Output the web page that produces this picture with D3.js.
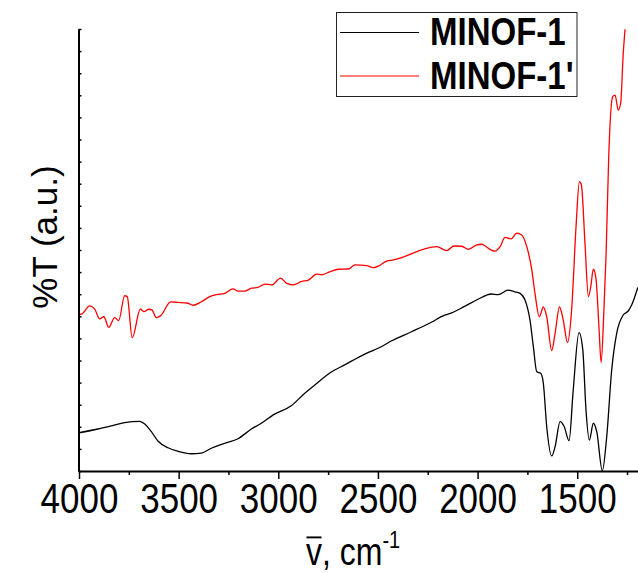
<!DOCTYPE html>
<html>
<head>
<meta charset="utf-8">
<script src="https://cdn.jsdelivr.net/npm/d3@7/dist/d3.min.js"></script>
<style>
  html, body { margin: 0; padding: 0; background: #fff; }
  svg { display: block; }
  text { font-family: "Liberation Sans", Arial, sans-serif; fill: #000; }
</style>
</head>
<body>
<svg id="chart" width="638" height="573"></svg>
<script>
// IR spectra, wavenumber (cm-1) against transmittance (arbitrary units)
const seriesNames = ["MINOF-1", "MINOF-1'"];
const seriesColors = ["#000000", "#ff0000"];

const minofWn = [4000, 3905, 3838, 3771, 3695, 3670, 3637, 3604, 3553, 3503, 3436, 3386, 3336, 3269,
  3202, 3135, 3085, 3027, 2935, 2867, 2817, 2734, 2667, 2566, 2483, 2433, 2332, 2232, 2165, 2140,
  2065, 1998, 1931, 1897, 1847, 1814, 1787, 1762, 1737, 1720, 1703, 1683, 1670, 1653, 1628, 1611,
  1586, 1565, 1541, 1520, 1491, 1472, 1456, 1439, 1419, 1402, 1374, 1352, 1327, 1302, 1269, 1244,
  1227, 1196];
const minofT = [1.73, 1.90, 2.04, 2.19, 2.25, 2.13, 1.78, 1.36, 1.05, 0.89, 0.78, 0.81, 1.03, 1.25,
  1.46, 1.90, 2.16, 2.53, 2.95, 3.52, 3.89, 4.48, 4.80, 5.29, 5.62, 5.88, 6.30, 6.73, 7.05, 7.12,
  7.45, 7.77, 8.01, 7.98, 8.18, 8.11, 8.04, 7.74, 6.83, 5.62, 4.49, 4.42, 3.97, 2.00, 0.68, 1.10,
  2.23, 2.00, 1.37, 3.67, 6.26, 5.48, 2.76, 1.40, 2.16, 1.78, 0.01, 1.55, 4.57, 6.23, 7.06, 7.24,
  7.51, 8.31];

const minofPrimeWn = [4000, 3988, 3946, 3921, 3896, 3875, 3851, 3821, 3801, 3771, 3758, 3733, 3692,
  3674, 3650, 3634, 3612, 3590, 3540, 3503, 3453, 3428, 3386, 3344, 3311, 3269, 3227, 3202, 3169,
  3135, 3102, 3067, 3033, 2988, 2958, 2925, 2882, 2849, 2807, 2782, 2740, 2699, 2649, 2615, 2556,
  2523, 2490, 2456, 2423, 2205, 2155, 2118, 2080, 2046, 2004, 1979, 1963, 1938, 1913, 1887, 1862,
  1832, 1804, 1779, 1753, 1728, 1712, 1690, 1670, 1653, 1628, 1611, 1589, 1570, 1549, 1528, 1506,
  1489, 1479, 1461, 1444, 1432, 1419, 1406, 1391, 1380, 1366, 1355, 1342, 1322, 1310, 1294, 1282,
  1269, 1260];
const minofPrimeT = [7.09, 7.10, 7.47, 7.32, 6.88, 6.98, 6.50, 6.94, 6.80, 7.93, 7.89, 6.03, 7.33,
  7.21, 7.32, 7.29, 6.94, 7.03, 7.65, 7.63, 7.59, 7.50, 7.66, 7.89, 7.98, 8.04, 8.24, 8.14, 8.14,
  8.27, 8.31, 8.46, 8.42, 8.73, 8.49, 8.42, 8.58, 8.64, 8.91, 8.88, 9.02, 9.13, 9.14, 9.33, 9.29,
  9.20, 9.31, 9.50, 9.55, 10.15, 9.97, 10.18, 10.17, 10.03, 10.23, 10.26, 10.19, 10.03, 9.95, 10.15, 10.57,
  10.50, 10.76, 10.68, 10.15, 9.10, 8.04, 6.98, 7.42, 6.98, 5.45, 6.23, 7.42, 6.83, 5.81, 7.29, 11.05,
  13.09, 12.94, 10.30, 7.89, 8.34, 9.13, 8.72, 6.53, 4.92, 7.29, 9.85, 14.20, 16.94, 17.01, 16.33, 16.64,
  18.90, 19.99];

const majorTicks = [4000, 3500, 3000, 2500, 2000, 1500];
const minorTicks = [3750, 3250, 2750, 2250, 1750, 1250];
const yTicks = d3.range(0, 21);

const svg = d3.select("#chart");
svg.append("rect").attr("width", 638).attr("height", 573).attr("fill", "#fff");

const x = d3.scaleLinear().domain([4000, 1195]).range([79, 638]);
const y = d3.scaleLinear().domain([0, 20]).range([471, 29]);

const plot = svg.append("g");
plot.append("clipPath").attr("id", "clip")
  .append("rect").attr("x", 79).attr("y", 0).attr("width", 559).attr("height", 472);

const line = d3.line()
  .x(d => x(d[0]))
  .y(d => y(d[1]))
  .curve(d3.curveMonotoneX);

const series = [
  d3.zip(minofWn, minofT),
  d3.zip(minofPrimeWn, minofPrimeT)
];

plot.selectAll("path.spec")
  .data(series)
  .join("path")
  .attr("class", "spec")
  .attr("clip-path", "url(#clip)")
  .attr("d", line)
  .attr("fill", "none")
  .attr("stroke", (d, i) => seriesColors[i])
  .attr("stroke-width", 1.3)
  .attr("stroke-linejoin", "round");

// Left axis: unlabeled ticks pointing into the plot
const yAxis = svg.append("g")
  .attr("transform", "translate(78.5,0)")
  .call(d3.axisLeft(y).tickValues(yTicks).tickSizeInner(-3).tickSizeOuter(0).tickFormat(""));
yAxis.select(".domain").attr("stroke", "#000").attr("stroke-width", 2);
yAxis.selectAll(".tick line").attr("stroke", "#000").attr("stroke-width", 1.5);

// Bottom axis: labelled major ticks, short minor ticks
const xMinor = svg.append("g")
  .attr("transform", "translate(0,471)")
  .call(d3.axisBottom(x).tickValues(minorTicks).tickSize(4).tickFormat(""));
xMinor.select(".domain").remove();
xMinor.selectAll(".tick line").attr("stroke", "#000").attr("stroke-width", 1.5);

const xAxis = svg.append("g")
  .attr("transform", "translate(0,471)")
  .call(d3.axisBottom(x).tickValues(majorTicks).tickSizeInner(8).tickSizeOuter(0).tickFormat(d3.format("d")));
xAxis.select(".domain").attr("stroke", "#000").attr("stroke-width", 2);
xAxis.selectAll(".tick line").attr("stroke", "#000").attr("stroke-width", 1.5);
xAxis.selectAll(".tick text")
  .attr("y", 35).attr("dy", null)
  .attr("transform", "scale(1,1.2)")
  .attr("font-family", "Liberation Sans, Arial, sans-serif")
  .attr("font-size", 35)
  .attr("fill", "#000");

// Axis titles
svg.append("text")
  .attr("transform", "translate(57,237) rotate(-90)")
  .attr("text-anchor", "middle")
  .attr("font-size", 35)
  .text("%T (a.u.)");

const xt = svg.append("g").attr("transform", "translate(306,565) scale(1,1.2)");
const xtText = xt.append("text").attr("font-size", 32);
xtText.append("tspan").text("v");
xtText.append("tspan").text(", cm");
xtText.append("tspan").attr("font-size", 20).attr("dy", -14).text("-1");
const vWidth = xtText.node().getSubStringLength(0, 1);
xt.append("line")
  .attr("x1", 0.5).attr("x2", vWidth - 0.5)
  .attr("y1", -23).attr("y2", -23)
  .attr("stroke", "#000").attr("stroke-width", 1.6);

// Legend
const legend = svg.append("g");
legend.append("rect")
  .attr("x", 336.5).attr("y", 12.5).attr("width", 240.5).attr("height", 84)
  .attr("fill", "#fff").attr("stroke", "#222").attr("stroke-width", 1);
const rows = legend.selectAll("g.row").data(seriesNames).join("g")
  .attr("class", "row")
  .attr("transform", (d, i) => `translate(0,${i * 43.5})`);
rows.append("line")
  .attr("x1", 340).attr("x2", 419).attr("y1", 32.5).attr("y2", 32.5)
  .attr("stroke", (d, i) => seriesColors[i]).attr("stroke-width", 1.2);
rows.append("text")
  .attr("transform", "translate(430,45) scale(1,1.19)")
  .attr("font-size", 33).attr("font-weight", "bold")
  .text(d => d);
</script>
</body>
</html>
